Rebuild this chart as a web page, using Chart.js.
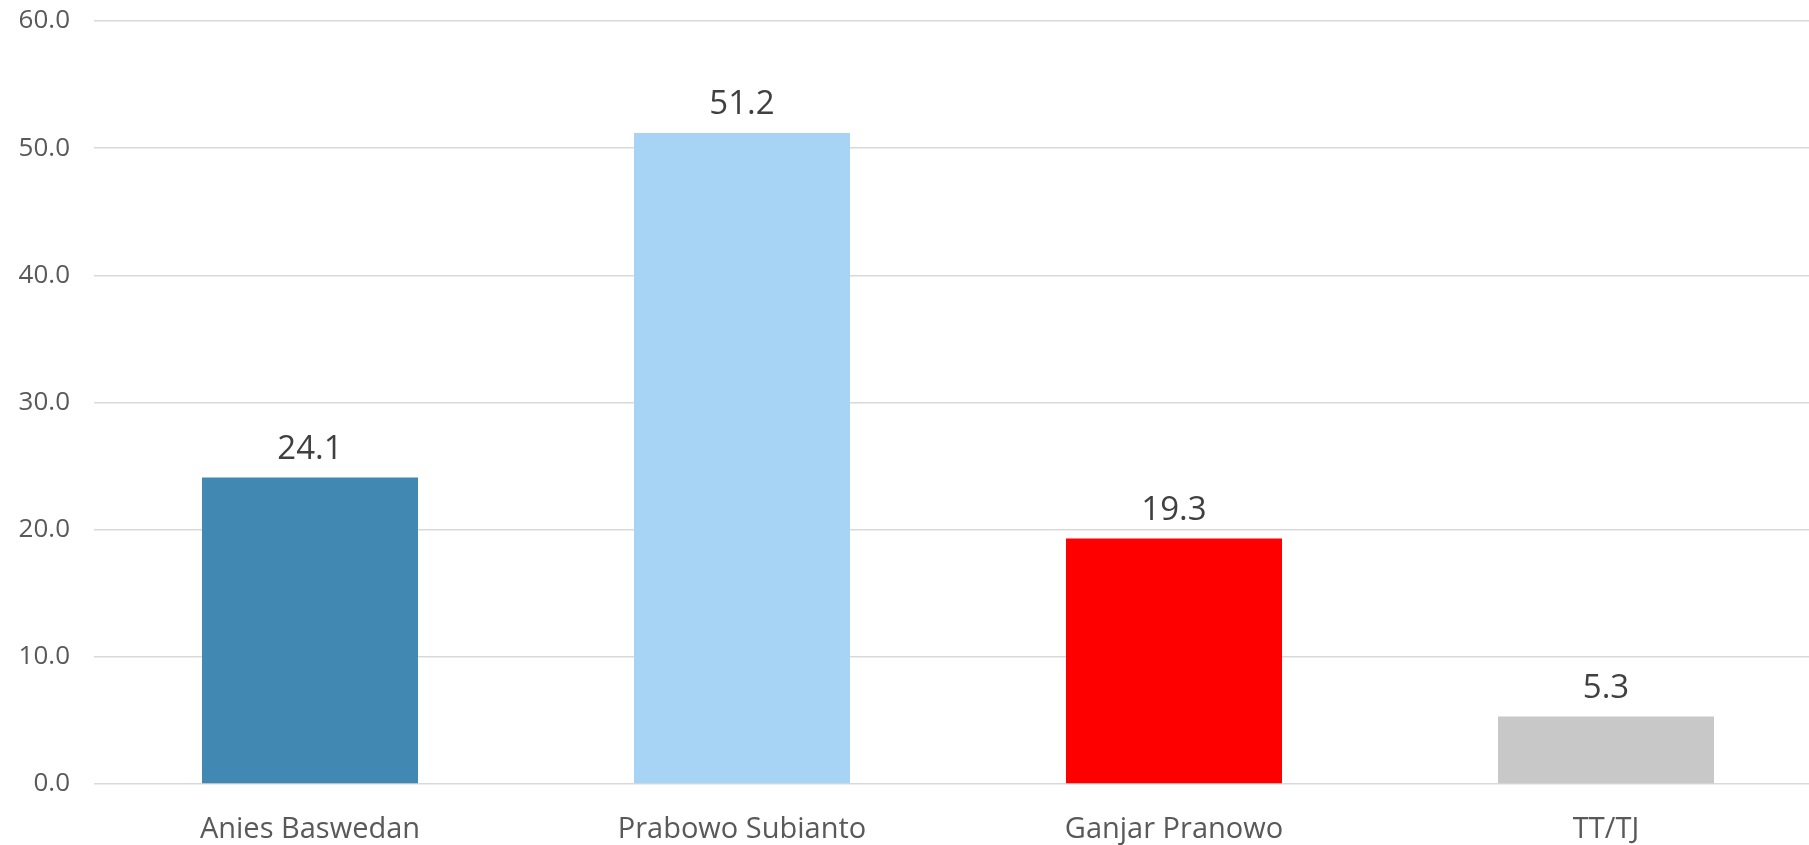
<!DOCTYPE html>
<html>
<head>
<meta charset="utf-8">
<script src="https://cdn.jsdelivr.net/npm/chart.js@4"></script>
<style>
  html, body { margin: 0; padding: 0; background: #fff; overflow: hidden; }
  #wrap { width: 1822px; height: 845px; }
</style>
</head>
<body>
<div id="wrap"><canvas id="voteChart"></canvas></div>
<script>
// chart data
const candidates = ["Anies Baswedan", "Prabowo Subianto", "Ganjar Pranowo", "TT/TJ"];
const shares = [24.1, 51.2, 19.3, 5.3];
const barColors = ["#4189b3", "#a7d4f4", "#ff0000", "#c8c8c8"];
const yTicks = [0, 10, 20, 30, 40, 50, 60];

const fontFamily = "'Open Sans', sans-serif";

// value labels above the bars
const valueLabels = {
  id: "valueLabels",
  afterDatasetsDraw(chart) {
    const ctx = chart.ctx;
    const meta = chart.getDatasetMeta(0);
    ctx.save();
    ctx.font = "33px " + fontFamily;
    ctx.fillStyle = "#404040";
    ctx.textAlign = "center";
    ctx.textBaseline = "alphabetic";
    meta.data.forEach((bar, i) => {
      ctx.fillText(shares[i].toFixed(1), bar.x, bar.y - 19);
    });
    ctx.restore();
  },
};

let voteChart = new Chart(document.getElementById("voteChart").getContext("2d"), {
  type: "bar",
  data: {
    labels: candidates,
    datasets: [
      {
        data: shares,
        backgroundColor: barColors,
        categoryPercentage: 1,
        barPercentage: 0.5,
      },
    ],
  },
  options: {
    responsive: true,
    maintainAspectRatio: false,
    animation: false,
    layout: { padding: { top: 21, right: 0, left: 0, bottom: 0 } },
    plugins: { legend: { display: false }, tooltip: { enabled: false } },
    scales: {
      x: {
        grid: { display: false, drawTicks: false },
        border: { display: false },
        ticks: { color: "#595959", font: { size: 29, family: fontFamily }, padding: 28 },
        afterFit: (scale) => { scale.height = 61; },
      },
      y: {
        min: 0,
        max: 60,
        afterBuildTicks: (scale) => { scale.ticks = yTicks.map((v) => ({ value: v })); },
        grid: { color: "#d9d9d9", lineWidth: 1.5, drawTicks: false },
        border: { display: false },
        ticks: {
          color: "#595959",
          font: { size: 26, family: fontFamily },
          padding: 24,
          callback: (v) => Number(v).toFixed(1),
        },
        afterFit: (scale) => {
          scale.width = 94;
          scale.paddingTop = 0;
          scale.paddingBottom = 0;
        },
      },
    },
  },
  plugins: [valueLabels],
});
</script>
</body>
</html>
